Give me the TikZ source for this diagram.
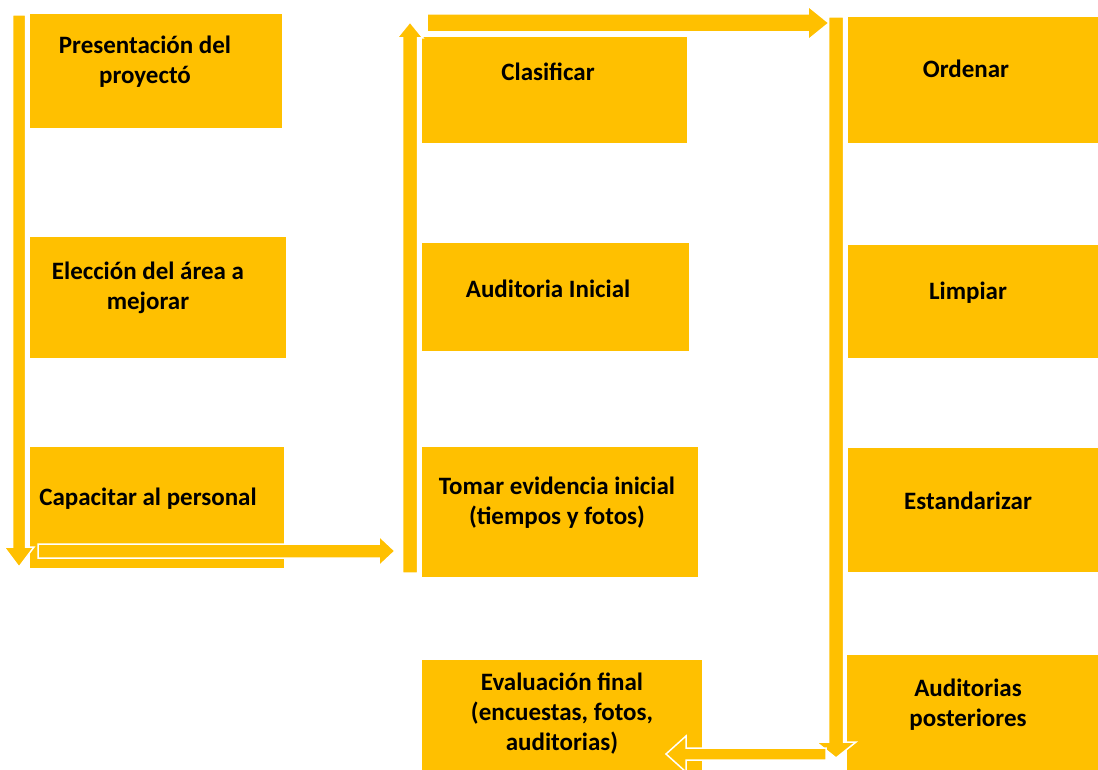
\documentclass[tikz,border=0pt]{standalone}
\usepackage{fontspec}
\setmainfont{Carlito}
\usetikzlibrary{calc}
\definecolor{ambar}{HTML}{FFC000}
\tikzset{
  caja/.style={fill=ambar},
  texto/.style={font=\bfseries\fontsize{25}{30}\selectfont, align=center, text=black, inner sep=0pt},
  flecha/.style={fill=ambar, draw=white, line width=1.5pt, line join=miter}
}
% inicio, fin, medio ancho, medio ala, largo de la punta
\newcommand{\bloque}[5]{%
  \coordinate (cuello) at ($(#2)!#5!(#1)$);
  \filldraw[flecha] ($(#1)!#3!90:(#2)$) -- ($(cuello)!#3!90:(#2)$)
    -- ($(cuello)!#4!90:(#2)$) -- (#2) -- ($(cuello)!#4!-90:(#2)$)
    -- ($(cuello)!#3!-90:(#2)$) -- ($(#1)!#3!-90:(#2)$) -- cycle;}
\begin{document}
\begin{tikzpicture}[x=1pt,y=-1pt]
  \useasboundingbox (0,0) rectangle (1098,770);
  % primera columna
  \fill[caja] (30,14) rectangle (282,128);
  \node[texto] (pres) at (145,62) {Presentación del\\proyectó};
  \fill[caja] (30,237) rectangle (286,358);
  \node[texto] (elec) at (148,288) {Elección del área a\\mejorar};
  \fill[caja] (30,447) rectangle (284,568);
  \node[texto] (capa) at (148,499) {Capacitar al personal};
  % segunda columna
  \fill[caja] (422,37) rectangle (687,143);
  \node[texto] (clas) at (548,72) {Clasificar};
  \fill[caja] (422,243) rectangle (689,351);
  \node[texto] (audi) at (548,289) {Auditoria Inicial};
  \fill[caja] (422,447) rectangle (698,577);
  \node[texto] (toma) at (557,503) {Tomar evidencia inicial\\(tiempos y fotos)};
  \fill[caja] (422,660) rectangle (702,770);
  \node[texto] (eval) at (562,714) {Evaluación final\\(encuestas, fotos,\\auditorias)};
  % tercera columna
  \fill[caja] (848,17) rectangle (1098,143);
  \node[texto] (orde) at (966,69) {Ordenar};
  \fill[caja] (848,245) rectangle (1098,358);
  \node[texto] (limp) at (968,293) {Limpiar};
  \fill[caja] (848,448) rectangle (1098,572);
  \node[texto] (esta) at (968,501) {Estandarizar};
  \fill[caja] (847,655) rectangle (1098,770);
  \node[texto] (post) at (968,705) {Auditorias\\posteriores};
  % flechas
  \coordinate (f1a) at (19,15);   \coordinate (f1b) at (19,567);
  \coordinate (f2a) at (38,551);  \coordinate (f2b) at (395,551);
  \coordinate (f3a) at (410,573); \coordinate (f3b) at (410,22);
  \coordinate (f4a) at (427,23);  \coordinate (f4b) at (829,23);
  \coordinate (f5a) at (836,17);  \coordinate (f5b) at (836,758);
  \coordinate (f6a) at (826,754); \coordinate (f6b) at (666,754);
  \bloque{f1a}{f1b}{6.5pt}{15pt}{20pt}
  \bloque{f2a}{f2b}{7pt}{15pt}{16pt}
  \bloque{f3a}{f3b}{7.5pt}{13pt}{16pt}
  \bloque{f4a}{f4b}{9pt}{17pt}{21pt}
  \bloque{f5a}{f5b}{7.5pt}{20pt}{16pt}
  \bloque{f6a}{f6b}{6pt}{18pt}{20pt}
\end{tikzpicture}
\end{document}
